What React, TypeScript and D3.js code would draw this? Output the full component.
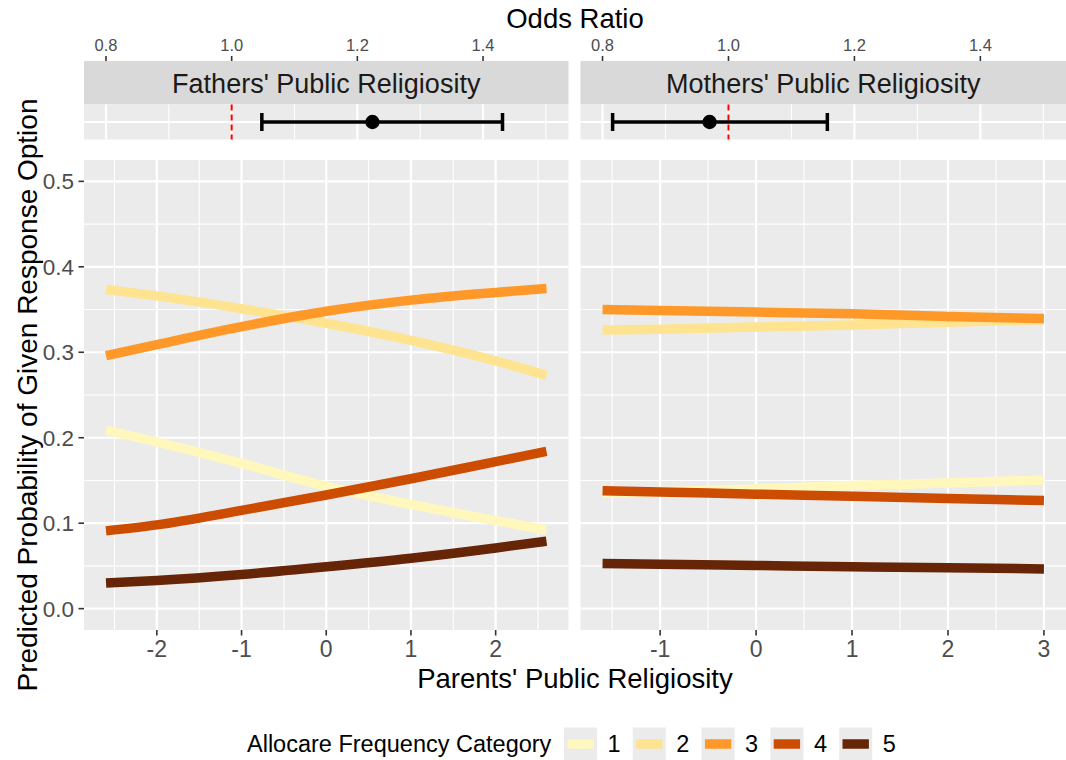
import React from "react";
import * as d3 from "d3";

// ---------- data ----------
const categories = ["1", "2", "3", "4", "5"];
const colors = ["#FFF7BC", "#FEE391", "#FE9929", "#CC4C02", "#662506"];

const fatherX = [-2.6, -2, -1, 0, 1, 2, 2.6];
const fatherCat1 = [0.209, 0.195, 0.17, 0.143, 0.122, 0.103, 0.092];
const fatherCat2 = [0.3735, 0.366, 0.351, 0.334, 0.314, 0.29, 0.273];
const fatherCat3 = [0.296, 0.309, 0.33, 0.348, 0.361, 0.37, 0.3745];
const fatherCat4 = [0.091, 0.098, 0.115, 0.133, 0.152, 0.172, 0.184];
const fatherCat5 = [0.03, 0.033, 0.04, 0.049, 0.059, 0.071, 0.079];

const motherX = [-1.6, -1, 0, 1, 2, 3];
const motherCat1 = [0.135, 0.137, 0.14, 0.144, 0.147, 0.1505];
const motherCat2 = [0.326, 0.327, 0.3295, 0.332, 0.335, 0.338];
const motherCat3 = [0.35, 0.349, 0.347, 0.345, 0.342, 0.3395];
const motherCat4 = [0.138, 0.1365, 0.134, 0.1315, 0.129, 0.1265];
const motherCat5 = [0.0528, 0.052, 0.0505, 0.049, 0.0478, 0.0465];

const panelTitles = ["Fathers' Public Religiosity", "Mothers' Public Religiosity"];
const oddsRatio = [1.224, 0.97];
const oddsLower = [1.048, 0.816];
const oddsUpper = [1.431, 1.157];
const oddsTicks = [0.8, 1.0, 1.2, 1.4];
const oddsMinor = [0.9, 1.1, 1.3, 1.5];
const yTicks = [0, 0.1, 0.2, 0.3, 0.4, 0.5];
const yMinor = [0.05, 0.15, 0.25, 0.35, 0.45];
const fatherXTicks = [-2, -1, 0, 1, 2];
const fatherXMinor = [-2.5, -1.5, -0.5, 0.5, 1.5, 2.5];
const motherXTicks = [-1, 0, 1, 2, 3];
const motherXMinor = [-1.5, -0.5, 0.5, 1.5, 2.5];

const FONT = "'Liberation Sans', Arial, Helvetica, sans-serif";

export default function App() {
  const W = 1066;
  const H = 760;
  const panels = [
    {
      x0: 84, x1: 568.5,
      xDomain: [-2.86, 2.86],
      xs: fatherX,
      series: [fatherCat1, fatherCat2, fatherCat3, fatherCat4, fatherCat5],
      ticks: fatherXTicks, minor: fatherXMinor,
    },
    {
      x0: 580.5, x1: 1066,
      xDomain: [-1.83, 3.23],
      xs: motherX,
      series: [motherCat1, motherCat2, motherCat3, motherCat4, motherCat5],
      ticks: motherXTicks, minor: motherXMinor,
    },
  ];
  const mainTop = 160;
  const mainBot = 630;
  const y = d3.scaleLinear().domain([-0.025, 0.525]).range([mainBot, mainTop]);

  const stripTop = 61;
  const stripBot = 104.5;
  const orBot = 139.5;
  const orMid = (stripBot + orBot) / 2;

  const grid = "#FFFFFF";
  const bg = "#EBEBEB";

  return (
    <div style={{ position: "absolute", left: 0, top: 0 }}>
      <svg width={W} height={H} style={{ display: "block", background: "#fff" }} fontFamily={FONT}>
        {/* Odds ratio title */}
        <text x={575} y={28} fontSize={27.5} textAnchor="middle" fill="#000">Odds Ratio</text>

        {panels.map((p, pi) => {
          const x = d3.scaleLinear().domain(p.xDomain).range([p.x0, p.x1]);
          const orx = d3.scaleLinear().domain([0.765, 1.536]).range([p.x0, p.x1]);
          const line = d3
            .line<number>()
            .x((_, i) => x(p.xs[i]))
            .y((d) => y(d))
            .curve(d3.curveMonotoneX);
          const cx = (p.x0 + p.x1) / 2;
          return (
            <g key={pi}>
              {/* top axis ticks */}
              {oddsTicks.map((t) => (
                <g key={t}>
                  <line x1={orx(t)} x2={orx(t)} y1={56} y2={stripTop} stroke="#333333" strokeWidth={1.6} />
                  <text x={orx(t)} y={51} fontSize={16.5} textAnchor="middle" fill="#4D4D4D">
                    {t.toFixed(1)}
                  </text>
                </g>
              ))}
              {/* strip */}
              <rect x={p.x0} y={stripTop} width={p.x1 - p.x0} height={stripBot - stripTop} fill="#D9D9D9" />
              <text x={cx} y={92.5} fontSize={27} textAnchor="middle" fill="#1A1A1A">
                {panelTitles[pi]}
              </text>
              {/* odds panel */}
              <rect x={p.x0} y={stripBot} width={p.x1 - p.x0} height={orBot - stripBot} fill={bg} />
              {oddsMinor.map((t) => (
                <line key={"om" + t} x1={orx(t)} x2={orx(t)} y1={stripBot} y2={orBot} stroke={grid} strokeWidth={1.1} />
              ))}
              {oddsTicks.map((t) => (
                <line key={"oM" + t} x1={orx(t)} x2={orx(t)} y1={stripBot} y2={orBot} stroke={grid} strokeWidth={2.2} />
              ))}
              <line x1={p.x0} x2={p.x1} y1={orMid} y2={orMid} stroke={grid} strokeWidth={2.2} />
              <line
                x1={orx(1)} x2={orx(1)} y1={stripBot} y2={orBot}
                stroke="#FF0000" strokeWidth={2} strokeDasharray="6 4"
              />
              <line x1={orx(oddsLower[pi])} x2={orx(oddsUpper[pi])} y1={orMid} y2={orMid} stroke="#000" strokeWidth={3.5} />
              <line x1={orx(oddsLower[pi])} x2={orx(oddsLower[pi])} y1={orMid - 9} y2={orMid + 9} stroke="#000" strokeWidth={3.5} />
              <line x1={orx(oddsUpper[pi])} x2={orx(oddsUpper[pi])} y1={orMid - 9} y2={orMid + 9} stroke="#000" strokeWidth={3.5} />
              <circle cx={orx(oddsRatio[pi])} cy={orMid} r={7.2} fill="#000" />

              {/* main panel */}
              <rect x={p.x0} y={mainTop} width={p.x1 - p.x0} height={mainBot - mainTop} fill={bg} />
              {yMinor.map((t) => (
                <line key={"ym" + t} x1={p.x0} x2={p.x1} y1={y(t)} y2={y(t)} stroke={grid} strokeWidth={1.1} />
              ))}
              {p.minor.map((t) => (
                <line key={"xm" + t} x1={x(t)} x2={x(t)} y1={mainTop} y2={mainBot} stroke={grid} strokeWidth={1.1} />
              ))}
              {yTicks.map((t) => (
                <line key={"yM" + t} x1={p.x0} x2={p.x1} y1={y(t)} y2={y(t)} stroke={grid} strokeWidth={2.2} />
              ))}
              {p.ticks.map((t) => (
                <line key={"xM" + t} x1={x(t)} x2={x(t)} y1={mainTop} y2={mainBot} stroke={grid} strokeWidth={2.2} />
              ))}
              {p.series.map((s, si) => (
                <path
                  key={"s" + si}
                  d={line(s) || ""}
                  fill="none"
                  stroke={colors[si]}
                  strokeWidth={9.5}
                  strokeLinecap="butt"
                />
              ))}
              {/* x axis */}
              {p.ticks.map((t) => (
                <g key={"xt" + t}>
                  <line x1={x(t)} x2={x(t)} y1={mainBot} y2={mainBot + 5.5} stroke="#333333" strokeWidth={1.6} />
                  <text x={x(t)} y={657} fontSize={23} textAnchor="middle" fill="#4D4D4D">
                    {t < 0 ? "-" + Math.abs(t) : String(t)}
                  </text>
                </g>
              ))}
            </g>
          );
        })}

        {/* y axis */}
        {yTicks.map((t) => (
          <g key={"yt" + t}>
            <line x1={78.5} x2={84} y1={y(t)} y2={y(t)} stroke="#333333" strokeWidth={1.6} />
            <text x={74} y={y(t) + 8} fontSize={22.5} textAnchor="end" fill="#4D4D4D">
              {t.toFixed(1)}
            </text>
          </g>
        ))}
        <text
          transform={`translate(37, ${(mainTop + mainBot) / 2}) rotate(-90)`}
          fontSize={28}
          textAnchor="middle"
          fill="#000"
        >
          Predicted Probability of Given Response Option
        </text>
        <text x={575} y={688} fontSize={27.5} textAnchor="middle" fill="#000">
          Parents' Public Religiosity
        </text>

        {/* legend */}
        <text x={247} y={752} fontSize={23.5} fill="#000">Allocare Frequency Category</text>
        {categories.map((c, i) => {
          const bx = 564 + i * 68.8;
          return (
            <g key={"lg" + c}>
              <rect x={bx} y={727.5} width={33} height={33} fill={bg} />
              <line x1={bx + 3.3} x2={bx + 29.7} y1={744} y2={744} stroke={colors[i]} strokeWidth={9.5} />
              <text x={bx + 43.5} y={752} fontSize={23.5} fill="#000">{c}</text>
            </g>
          );
        })}
      </svg>
    </div>
  );
}
